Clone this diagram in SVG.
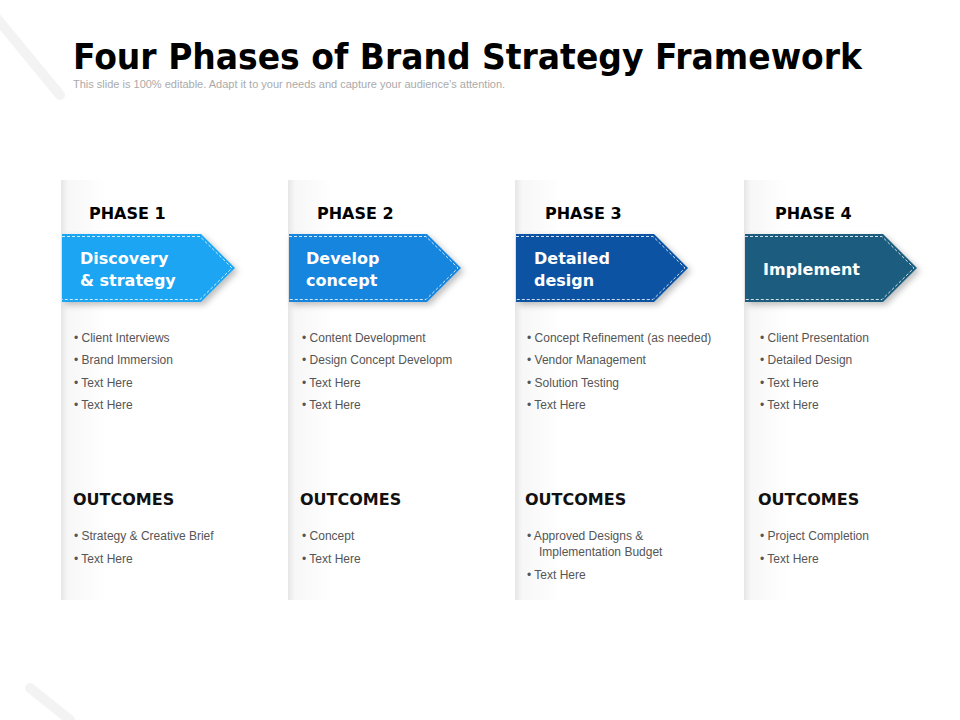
<svg xmlns="http://www.w3.org/2000/svg" width="960" height="720" viewBox="0 0 960 720">
<defs>
<style>
.t{font-family:"DejaVu Sans",Verdana,sans-serif;font-weight:bold}
.ph{font-family:"DejaVu Sans",sans-serif;font-weight:bold;font-size:16px;fill:#000}
.ar{font-family:"DejaVu Sans",sans-serif;font-weight:bold;font-size:16px;fill:#fff}
.b{font-family:"Liberation Sans",Arial,sans-serif;font-size:12px;fill:#555}
.oc{font-family:"DejaVu Sans",sans-serif;font-weight:bold;font-size:16px;fill:#111}
.dash{fill:none;stroke:#fff;stroke-width:1;stroke-dasharray:3 2;opacity:.8}
</style>
<filter id="sh" x="-10%" y="-10%" width="130%" height="140%"><feDropShadow dx="3" dy="3" stdDeviation="3" flood-color="#000" flood-opacity="0.25"/></filter>
<linearGradient id="col" x1="0" x2="1"><stop offset="0" stop-color="#e6e6e6"/><stop offset="0.03" stop-color="#f7f7f7"/><stop offset="0.2" stop-color="#fff"/></linearGradient>
</defs>
<rect width="960" height="720" fill="#fff"/>
<g opacity="0.5" stroke="#e8e8e8" stroke-width="10" stroke-linecap="round">
<line x1="-10" y1="10" x2="60" y2="95"/>
<line x1="30" y1="688" x2="70" y2="720"/>
</g>
<text class="t" x="73" y="69" font-size="36" textLength="789" lengthAdjust="spacingAndGlyphs">Four Phases of Brand Strategy Framework</text>
<text x="73" y="88" font-family="Liberation Sans,Arial,sans-serif" font-size="11" fill="#aaa">This slide is 100% editable. Adapt it to your needs and capture your audience’s attention.</text>

<g id="columns">
<rect x="61" y="180" width="227" height="420" fill="url(#col)"/>
<rect x="288" y="180" width="228" height="420" fill="url(#col)"/>
<rect x="515" y="180" width="230" height="420" fill="url(#col)"/>
<rect x="744" y="180" width="216" height="420" fill="url(#col)"/>
</g>

<g id="phase1">
<text class="ph" x="89" y="219">PHASE 1</text>
<path d="M62 234H201L235 268L201 302H62Z" fill="#1ba5f2" filter="url(#sh)"/>
<path d="M62 236.5H200L232 268L200 299.5H62" class="dash"/>
<text class="ar" x="80" y="264">Discovery</text><text class="ar" x="80" y="286">&amp; strategy</text>
<g class="b"><text x="74" y="342">•   Client Interviews</text><text x="74" y="364">•   Brand Immersion</text><text x="74" y="387">•   Text Here</text><text x="74" y="409">•   Text Here</text></g>
<text class="oc" x="73" y="505">OUTCOMES</text>
<g class="b"><text x="74" y="540">•   Strategy &amp; Creative Brief</text><text x="74" y="563">•   Text Here</text></g>
</g>

<g id="phase2">
<text class="ph" x="317" y="219">PHASE 2</text>
<path d="M289 234H427L461 268L427 302H289Z" fill="#1985de" filter="url(#sh)"/>
<path d="M289 236.5H426L458 268L426 299.5H289" class="dash"/>
<text class="ar" x="306" y="264">Develop</text><text class="ar" x="306" y="286">concept</text>
<g class="b"><text x="302" y="342">•   Content Development</text><text x="302" y="364">•   Design Concept Developm</text><text x="302" y="387">•   Text Here</text><text x="302" y="409">•   Text Here</text></g>
<text class="oc" x="300" y="505">OUTCOMES</text>
<g class="b"><text x="302" y="540">•   Concept</text><text x="302" y="563">•   Text Here</text></g>
</g>

<g id="phase3">
<text class="ph" x="545" y="219">PHASE 3</text>
<path d="M516 234H654L688 268L654 302H516Z" fill="#0b52a3" filter="url(#sh)"/>
<path d="M516 236.5H653L685 268L653 299.5H516" class="dash"/>
<text class="ar" x="534" y="264">Detailed</text><text class="ar" x="534" y="286">design</text>
<g class="b"><text x="527" y="342">•   Concept Refinement (as needed)</text><text x="527" y="364">•   Vendor Management</text><text x="527" y="387">•   Solution Testing</text><text x="527" y="409">•   Text Here</text></g>
<text class="oc" x="525" y="505">OUTCOMES</text>
<g class="b"><text x="527" y="540">•   Approved Designs &amp;</text><text x="539" y="556">Implementation  Budget</text><text x="527" y="579">•   Text Here</text></g>
</g>

<g id="phase4">
<text class="ph" x="775" y="219">PHASE 4</text>
<path d="M745 234H883L917 268L883 302H745Z" fill="#1c5d7f" filter="url(#sh)"/>
<path d="M745 236.5H882L914 268L882 299.5H745" class="dash"/>
<text class="ar" x="763" y="275">Implement</text>
<g class="b"><text x="760" y="342">•   Client Presentation</text><text x="760" y="364">•   Detailed Design</text><text x="760" y="387">•   Text Here</text><text x="760" y="409">•   Text Here</text></g>
<text class="oc" x="758" y="505">OUTCOMES</text>
<g class="b"><text x="760" y="540">•   Project Completion</text><text x="760" y="563">•   Text Here</text></g>
</g>
<g id="connectors"/>
</svg>
